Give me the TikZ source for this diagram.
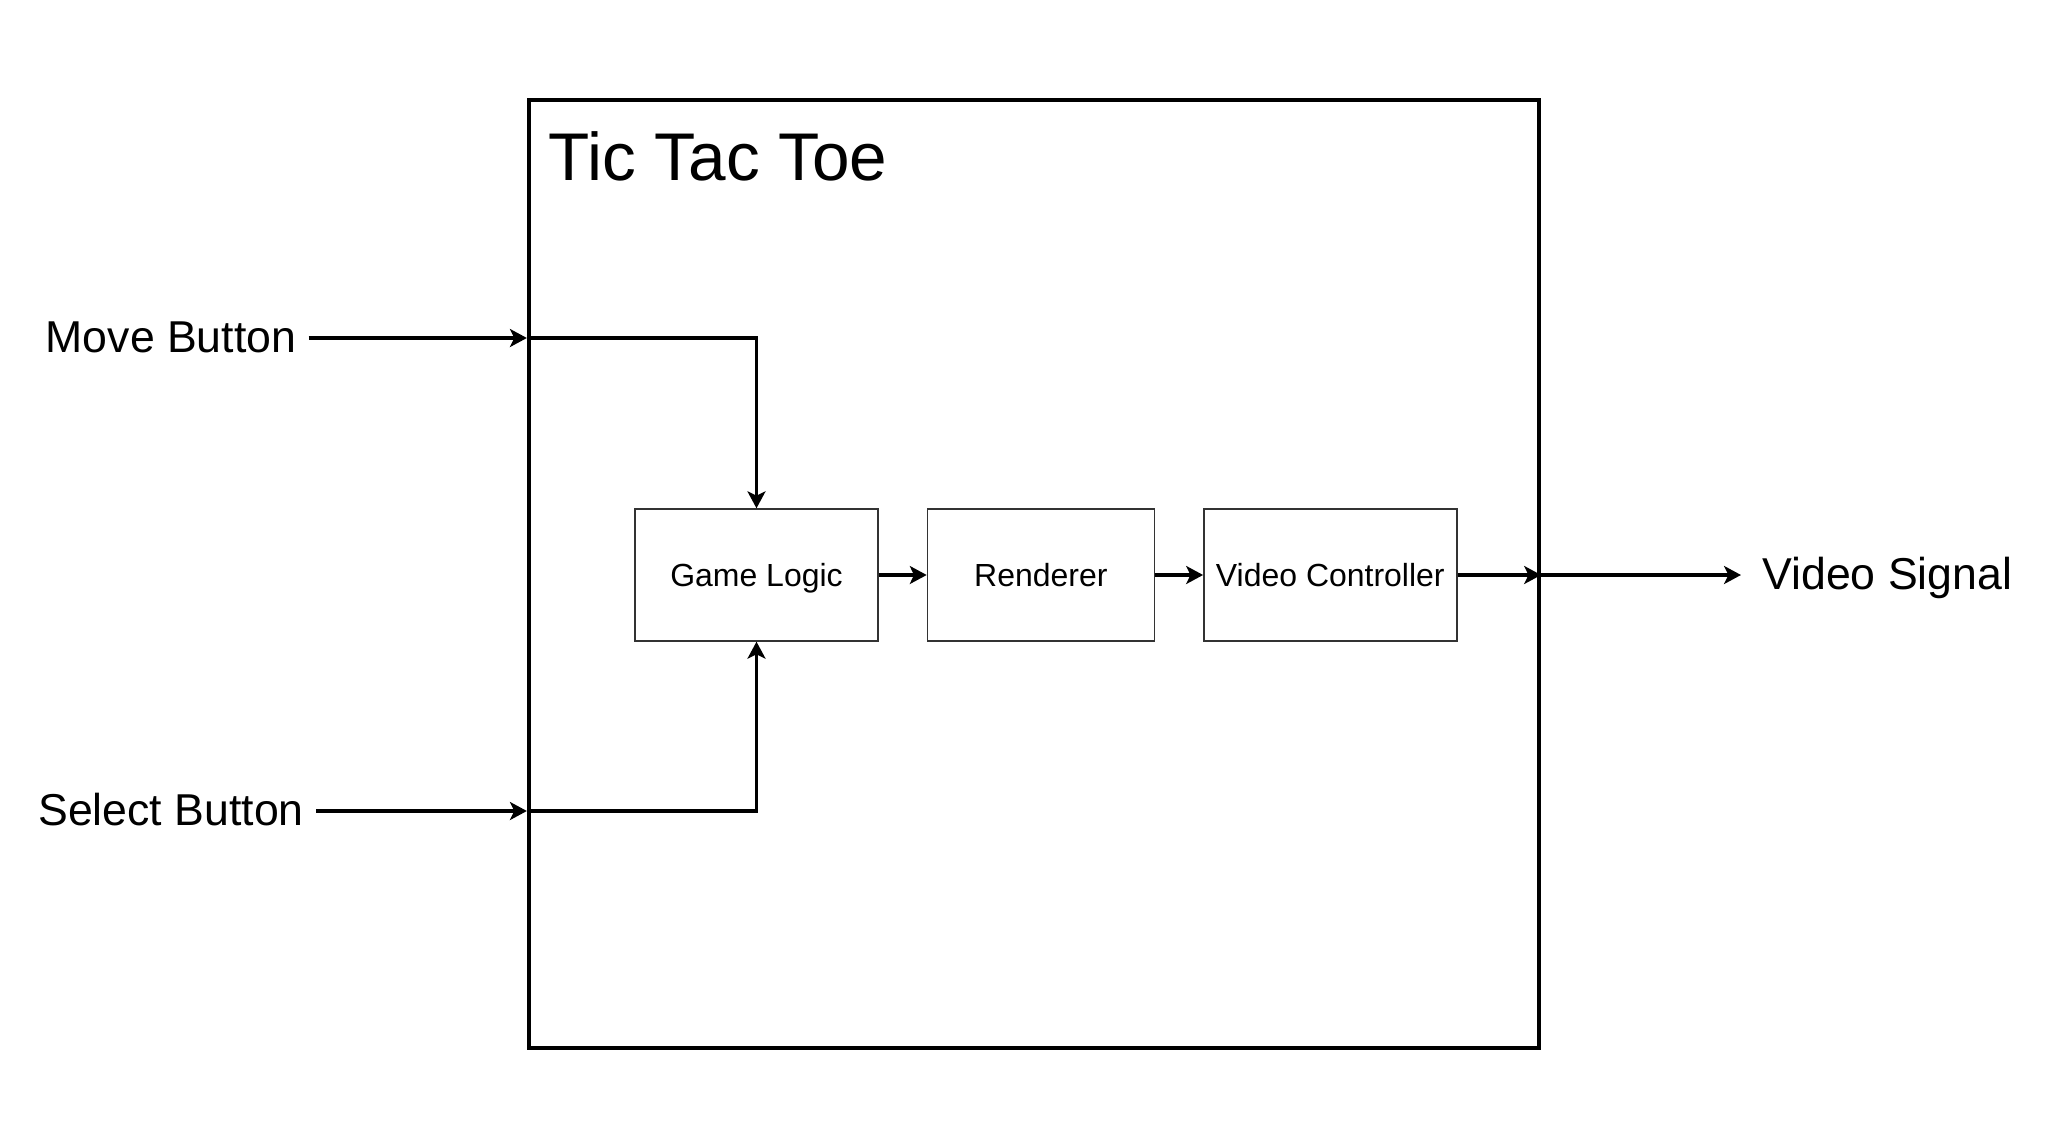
\documentclass[tikz,border=0pt]{standalone}
\usepackage{fontspec}
\setmainfont{Liberation Sans}
\usepackage{tikz}
\usetikzlibrary{arrows.meta, positioning, shapes}

\begin{document}
\begin{tikzpicture}[
        node distance=0.48cm and 0.48cm,
        outer/.style={
            rectangle,
            draw=black,
            line width=1.2pt,
            minimum width=10.10cm,
            minimum height=9.48cm
        },
        block/.style={
            rectangle,
            draw=black!80,
            line width=0.4pt,
            align=center,
            font=\fontsize{9.1}{11}\selectfont,
            text height=0.68em,
            text depth=0pt,
            minimum height=1.32cm
        },
        label/.style={
            font=\fontsize{12.7}{15}\selectfont,
            text height=0.84em,
            text depth=0pt
        },
        arrow/.style={
            -{Stealth[length=4.8pt, width=5.1pt, inset=1.2pt]},
            line width=1.1pt,
            draw=black
        }
    ]
        \useasboundingbox (0,0) rectangle (20.54,-11.43);

        \node (ttt) [outer] at (10.34,-5.74) {};
        \node (title) [anchor=west, inner sep=0pt, font=\fontsize{19.2}{23}\selectfont, text height=0.6em, text depth=0pt] at (5.48,-1.70) {Tic Tac Toe};

        \node (gl) [block, minimum width=2.43cm] at (7.565,-5.75) {Game Logic};
        \node (rend) [block, minimum width=2.27cm, right=of gl] {Renderer};
        \node (vc) [block, minimum width=2.53cm, right=of rend] {Video Controller};

        \node (move) [label] at (1.71,-3.38) {Move Button};
        \node (select) [label] at (1.71,-8.11) {Select Button};
        \node (signal) [label, anchor=west] at (17.50,-5.75) {Video Signal};

        \coordinate (movein) at (ttt.west |- move);
        \coordinate (selin) at (ttt.west |- select);
        \coordinate (vcout) at (ttt.east |- vc);

        \draw [arrow] (move) -- (movein);
        \draw [arrow] (movein) -| (gl.north);
        \draw [arrow] (select) -- (selin);
        \draw [arrow] (selin) -| (gl.south);
        \draw [arrow] (gl) -- (rend);
        \draw [arrow] (rend) -- (vc);
        \draw [arrow] (vc) -- (vcout);
        \draw [arrow, shorten >=0.09cm] (vcout) -- (signal);
    \end{tikzpicture}
\end{document}
